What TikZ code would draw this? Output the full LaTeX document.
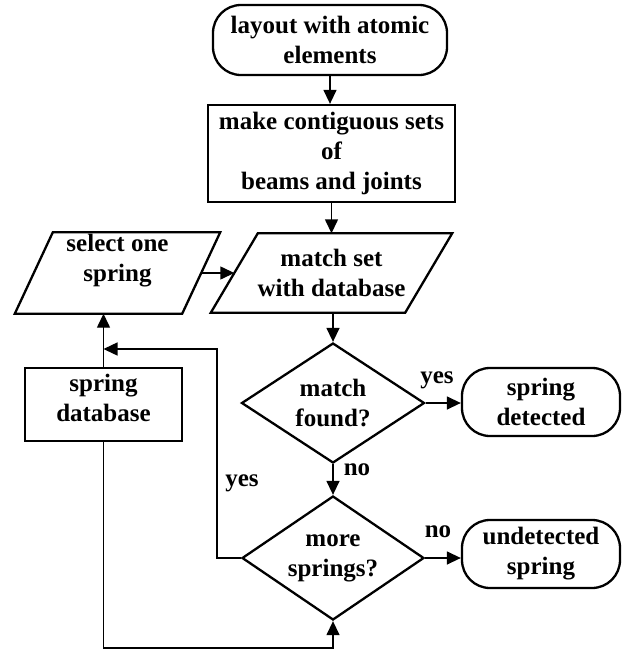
\documentclass[tikz,border=0pt]{standalone}
\usepackage{fontspec}
\setmainfont{Liberation Serif}
\usetikzlibrary{shapes.geometric,arrows.meta,calc}
\begin{document}
\begin{tikzpicture}[x=1pt,y=-1pt,
  txt/.style={font=\fontsize{25}{30}\selectfont\bfseries, align=center, inner sep=0pt},
  shp/.style={draw, line width=2.3pt, txt},
  term/.style={shp, rectangle, rounded corners=28pt},
  proc/.style={shp, rectangle},
  dec/.style={shp, diamond, aspect=1.5},
  iobox/.style={txt},
  frame/.style={line width=2.3pt, line join=miter},
  conn/.style={line width=1.4pt, -{Triangle[length=14pt,width=13pt]}},
  lab/.style={font=\fontsize{25}{30}\selectfont\bfseries, inner sep=0pt, anchor=base}
]
\useasboundingbox (0,0) rectangle (625,654);

% nodes
\node[term, minimum width=234pt, minimum height=70pt] (t1) at (330,40) {layout with atomic\\elements};
\node[proc, minimum width=247pt, minimum height=97pt] (r2) at (331.5,153.5) {make contiguous sets\\of\\beams and joints};

\node[iobox, minimum width=241pt, minimum height=79pt] (ms) at (331.5,273) {match set\\with database};
\draw[frame] ([xshift=47pt]ms.north west) -- (ms.north east) -- ([xshift=-47pt]ms.south east) -- (ms.south west) -- cycle;

\node[iobox, minimum width=205pt, minimum height=81pt,
      label={[txt,yshift=12.5pt]center:{select one\\spring}}] (sel) at (117.5,273) {};
\draw[frame] ([xshift=38pt]sel.north west) -- (sel.north east) -- ([xshift=-38pt]sel.south east) -- (sel.south west) -- cycle;

\node[proc, minimum width=157pt, minimum height=73pt,
      label={[txt,yshift=7pt]center:{spring\\database}}] (db) at (103.5,404.5) {};

\node[dec, minimum width=183pt, minimum height=120pt] (d1) at (333,403) {match\\found?};
\node[dec, minimum width=182pt, minimum height=124pt] (d2) at (333,558) {more\\springs?};

\node[term, minimum width=158pt, minimum height=68pt] (sd) at (541,402) {spring\\detected};
\node[term, minimum width=158pt, minimum height=68pt] (ud) at (541,554) {undetected\\spring};

% connectors
\draw[conn] (t1.south) -- (t1.south |- r2.north);
\draw[conn] (r2.south) -- (r2.south |- ms.north);
\draw[conn] (ms.south -| d1.north) -- (d1.north);
\draw[conn] ([xshift=-19pt]sel.east) -- ([xshift=23.5pt]ms.west);
\draw[conn] (db.north) -- (db.north |- sel.south);
\draw[conn] (d1.east) -- (d1.east -| sd.west);
\draw[conn] (d1.south) -- (d2.north);
\draw[conn] (d2.east) -- (d2.east -| ud.west);
\coordinate (loop) at (217,349);
\draw[conn] (d2.west) -| (loop) -- (loop -| db.north);
\coordinate (base) at (0,648);
\draw[conn] (db.south) -- (db.south |- base) -| (d2.south);

% labels
\node[lab] (yes1) at (437,383) {yes};
\node[lab] (no1) at (357,475) {no};
\node[lab] (yes2) at (242,486) {yes};
\node[lab] (no2) at (438,537) {no};
\end{tikzpicture}
\end{document}
